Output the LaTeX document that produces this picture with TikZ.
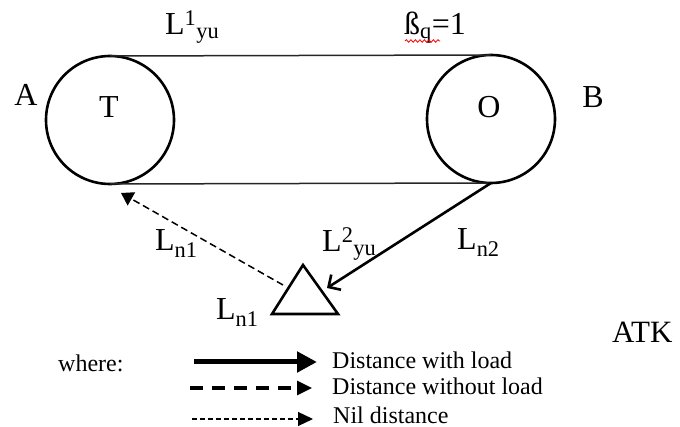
\documentclass[tikz,border=0pt]{standalone}
\usepackage{fontspec}
\setmainfont{Liberation Serif}
\usetikzlibrary{arrows.meta,decorations.pathmorphing}
\newcommand\lblfont{\fontsize{32}{38}\selectfont}
\newcommand\legfont{\fontsize{24}{28}\selectfont}
\newcommand\atkfont{\fontsize{31}{36}\selectfont}
\begin{document}
\begin{tikzpicture}[x=1pt,y=-1pt,
  wheel/.style={draw, circle, minimum size=128pt, line width=2.6pt, inner sep=0pt, outer sep=0pt},
  belt/.style={line width=1.5pt, black!85},
  lbl/.style={font=\lblfont, inner sep=0pt, anchor=base west},
  leg/.style={font=\legfont, inner sep=0pt, anchor=base west},
  loaded/.style={line width=2.6pt, -{Straight Barb[length=9pt,width=18pt,line width=2.6pt]}},
  empty/.style={line width=1.5pt, dash pattern=on 7pt off 4pt, -{Triangle[length=12pt,width=15pt]}},
  legA/.style={line width=5pt, -{Triangle[length=20pt,width=20pt]}},
  legB/.style={line width=3.2pt, dash pattern=on 13pt off 9pt, -{Triangle[length=15pt,width=14pt]}},
  legC/.style={line width=1.2pt, dash pattern=on 5pt off 3pt, -{Triangle[length=15pt,width=14pt]}}]
\path[use as bounding box] (0,0) rectangle (680,427);

% wheels
\node[wheel] (cT) at (110,120) {};
\node[wheel] (cO) at (491,119) {};
\draw[belt] (cT.north) -- (cO.north);
\draw[belt] (cT.south) -- (cO.south);

% wheel labels
\node[font=\lblfont, inner sep=0pt] (lA) at (26,95) {A};
\node[font=\lblfont, inner sep=0pt] (lT) at (109,107) {T};
\node[font=\lblfont, inner sep=0pt] (lO) at (489,107) {O};
\node[font=\lblfont, inner sep=0pt] (lB) at (593,97) {B};

% top labels
\node[lbl] (l1yu) at (165,35) {L\textsuperscript{1}\textsubscript{yu}};
\node[lbl] (beta) at (404,35) {ß\textsubscript{q}=1};
\draw[red, line width=0.8pt, decorate, decoration={snake, amplitude=1.3pt, segment length=4.5pt}] (405,41) -- (440,41);

% triangle (loading point)
\coordinate (tA) at (303,265);
\coordinate (tL) at (272,314);
\coordinate (tR) at (338,314);
\draw[line width=2.6pt, line join=miter] (tA) -- (tL) -- (tR) -- cycle;
\coordinate (triIn) at (327,288);
\coordinate (triOut) at (283,285);
\coordinate (tip) at (121,193);

% connectors
\draw[loaded] (cO.south) -- (triIn);
\draw[empty] (triOut) -- (tip);

% connector labels
\node[lbl] (ln1a) at (155,251) {L\textsubscript{n1}};
\node[lbl] (l2yu) at (322,252) {L\textsuperscript{2}\textsubscript{yu}};
\node[lbl] (ln2) at (457,250) {L\textsubscript{n2}};
\node[lbl] (ln1b) at (216,320) {L\textsubscript{n1}};

% ATK
\node[font=\atkfont, inner sep=0pt, anchor=base west] (atk) at (612,343) {ATK};

% legend
\node[leg] (where) at (58,372) {where:};
\coordinate (a1) at (194,362); \coordinate (b1) at (317,362);
\coordinate (a2) at (190,388); \coordinate (b2) at (312,388);
\coordinate (a3) at (192,419); \coordinate (b3) at (313,419);
\draw[legA] (a1) -- (b1);
\draw[legB] (a2) -- (b2);
\draw[legC] (a3) -- (b3);
\node[leg] (t1) at (332,369) {Distance with load};
\node[leg] (t2) at (332,395) {Distance without load};
\node[leg] (t3) at (333,423) {Nil distance};
\end{tikzpicture}
\end{document}
